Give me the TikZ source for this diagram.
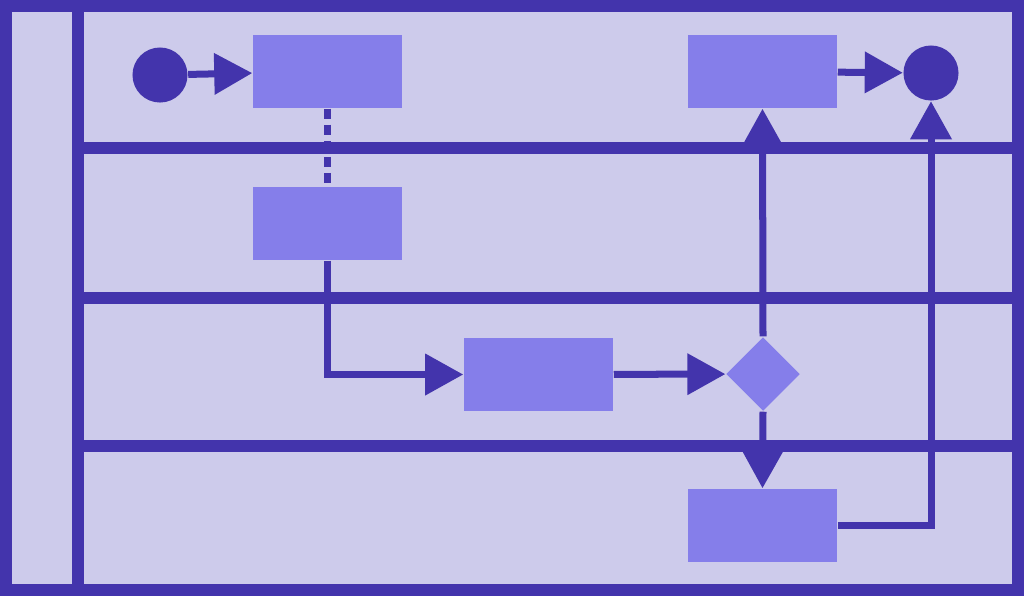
\documentclass[tikz,border=0pt]{standalone}
\usetikzlibrary{arrows.meta,shapes.geometric}
\definecolor{dk}{HTML}{4334AC}
\definecolor{bx}{HTML}{857EEA}
\definecolor{bg}{HTML}{CDCBEB}
\begin{document}
\begin{tikzpicture}[x=0.01cm,y=-0.01cm,
  box/.style={fill=bx,draw=none,minimum width=1.49cm,minimum height=0.73cm,inner sep=0},
  dot/.style={circle,fill=dk,minimum size=0.55cm,inner sep=0},
  dia/.style={diamond,fill=bx,minimum size=0.74cm,inner sep=0},
  conn/.style={draw=dk,line width=0.07cm},
  arr/.style={conn,-{Triangle[length=0.38cm,width=0.4cm]}},
  lane/.style={draw=dk,line width=0.12cm}]
\fill[bg] (0,0) rectangle (1024,596);
\useasboundingbox (0,0) rectangle (1024,596);
\draw[lane] (78,6) -- (78,590);
\draw[lane] (78,148) -- (1018,148);
\draw[lane] (78,298) -- (1018,298);
\draw[lane] (78,446) -- (1018,446);
\draw[lane] (6,6) rectangle (1018,590);
\node[dot] (s) at (160,75) {};
\node[box] (b1) at (327.5,71.5) {};
\node[box] (b5) at (762.5,71.5) {};
\node[dot] (e) at (931,73) {};
\node[box] (b2) at (327.5,223.5) {};
\node[box] (b3) at (538.5,374.5) {};
\node[dia] (d) at (763,374) {};
\node[box] (b4) at (762.5,525.5) {};
\draw[arr] (s) -- (b1);
\draw[conn,dashed,dash pattern=on 0.1cm off 0.06cm] (b1) -- (b2);
\draw[arr] (b2.south) |- (b3.west);
\draw[arr] (b3) -- (d);
\draw[arr] (d.north) -- (b5.south);
\draw[arr] (d.south) -- (b4.north);
\draw[arr] (b5) -- (e);
\draw[arr] (b4.east) -| (e.south);
\end{tikzpicture}
\end{document}
